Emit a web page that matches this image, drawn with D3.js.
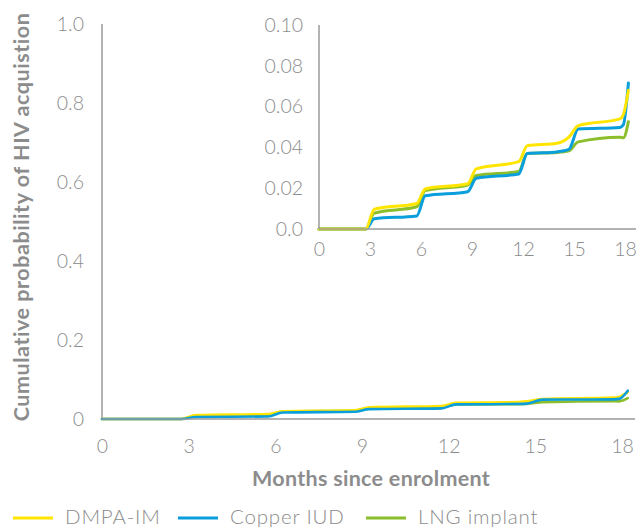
<!DOCTYPE html>
<html>
<head>
<meta charset="utf-8">
<script src="https://cdn.jsdelivr.net/npm/d3@7"></script>
<style>
  html, body { margin: 0; padding: 0; background: #fff; }
  svg { display: block; }
  text { font-family: Lato, "Open Sans", sans-serif; }
</style>
</head>
<body>
<svg id="chart" width="637" height="527"></svg>
<script>
// ---- Data ----
const seriesNames = ["DMPA-IM", "Copper IUD", "LNG implant"];
const seriesColors = ["#FFE500", "#0A9FDC", "#8CBE2C"];
const months = [0, 2.75, 3.25, 5.75, 6.25, 8.75, 9.25, 11.75, 12.25, 14.0, 14.7, 15.25, 17.7, 17.9, 18.2];
const dmpa   = [0, 0, 0.0097, 0.0125, 0.0196, 0.0222, 0.0295, 0.0330, 0.0408, 0.0420, 0.0450, 0.0507, 0.0540, 0.0560, 0.0680];
const copper = [0, 0, 0.0050, 0.0064, 0.0163, 0.0183, 0.0249, 0.0270, 0.0370, 0.0378, 0.0390, 0.0490, 0.0498, 0.0510, 0.0716];
const lng    = [0, 0, 0.0078, 0.0109, 0.0188, 0.0216, 0.0262, 0.0282, 0.0370, 0.0375, 0.0383, 0.0427, 0.0450, 0.0447, 0.0526];
const xTicks = [0, 3, 6, 9, 12, 15, 18];
const yTicksMain = [0, 0.2, 0.4, 0.6, 0.8, 1.0];
const yTickLabelsMain = ["0", "0.2", "0.4", "0.6", "0.8", "1.0"];
const yTicksInset = [0, 0.02, 0.04, 0.06, 0.08, 0.10];
const yTickLabelsInset = ["0.0", "0.02", "0.04", "0.06", "0.08", "0.10"];
const xTitle = "Months since enrolment";
const yTitle = "Cumulative probability of HIV acquistion";

const seriesValues = [dmpa, copper, lng];
const series = seriesNames.map((name, i) => ({
  name, color: seriesColors[i],
  points: months.map((m, j) => ({ m, v: seriesValues[i][j] }))
}));

const svg = d3.select("#chart");
const axisColor = "#9a9a9a";
const textColor = "#8c8c8c";

function drawPanel(opts) {
  const x = d3.scaleLinear().domain([0, 18]).range([opts.x0, opts.x18]);
  const y = d3.scaleLinear().domain(opts.yDomain).range([opts.yBottom, opts.yTop]);
  const g = svg.append("g");

  const line = d3.line().x(d => x(d.m)).y(d => y(d.v)).curve(d3.curveMonotoneX);
  opts.order.forEach(i => {
    g.append("path")
      .datum(series[i].points)
      .attr("fill", "none")
      .attr("stroke", series[i].color)
      .attr("stroke-width", opts.lw)
      .attr("stroke-linecap", "round")
      .attr("d", line);
  });

  const yAxis = d3.axisLeft(y).tickValues(opts.yTicks)
    .tickFormat((d, i) => opts.yLabels[i]).tickSize(0).tickPadding(opts.yPad);
  const ya = g.append("g").attr("transform", `translate(${opts.x0},0)`).call(yAxis);
  ya.select(".domain").attr("stroke", axisColor).attr("stroke-width", 1.5)
    .attr("d", `M0,${opts.yBottom}V${opts.yTop}`);
  ya.selectAll("text").attr("fill", textColor).attr("font-size", opts.fs).attr("font-weight", 300);

  const xAxis = d3.axisBottom(x).tickValues(xTicks).tickSize(0).tickPadding(opts.xPad);
  const xa = g.append("g").attr("transform", `translate(0,${opts.yBottom})`).call(xAxis);
  xa.select(".domain").attr("stroke", axisColor).attr("stroke-width", 1.5)
    .attr("d", `M${opts.x0},0H${opts.xEnd}`);
  xa.selectAll("text").attr("fill", textColor).attr("font-size", opts.fs).attr("font-weight", 300);
  return { x, y };
}

// main panel
drawPanel({
  x0: 102, x18: 622, xEnd: 635, yBottom: 419, yTop: 24,
  yDomain: [0, 1], yTicks: yTicksMain, yLabels: yTickLabelsMain,
  lw: 2.6, fs: 19.5, yPad: 18, xPad: 20, order: [2, 0, 1]
});

// inset panel
drawPanel({
  x0: 319, x18: 625, xEnd: 636, yBottom: 229, yTop: 25,
  yDomain: [0, 0.1], yTicks: yTicksInset, yLabels: yTickLabelsInset,
  lw: 3, fs: 19.5, yPad: 16, xPad: 13, order: [2, 1, 0]
});

// axis titles
svg.append("text")
  .attr("x", 371).attr("y", 486)
  .attr("text-anchor", "middle")
  .attr("font-size", 21.5).attr("font-weight", 700)
  .attr("letter-spacing", 0.3)
  .attr("fill", textColor)
  .text(xTitle);

svg.append("text")
  .attr("transform", "translate(29,217) rotate(-90)")
  .attr("text-anchor", "middle")
  .attr("font-size", 21.5).attr("font-weight", 700)
  .attr("letter-spacing", 0.55)
  .attr("fill", textColor)
  .text(yTitle);

// legend
const legendX = [13, 178, 366];
const legendY = 518;
const lg = svg.append("g");
series.forEach((s, i) => {
  lg.append("line")
    .attr("x1", legendX[i]).attr("x2", legendX[i] + 40)
    .attr("y1", legendY).attr("y2", legendY)
    .attr("stroke", s.color).attr("stroke-width", 3);
  lg.append("text")
    .attr("x", legendX[i] + 52).attr("y", 524)
    .attr("font-size", 20.5).attr("font-weight", 300)
    .attr("letter-spacing", 0.8)
    .attr("fill", textColor)
    .text(s.name);
});
</script>
</body>
</html>
